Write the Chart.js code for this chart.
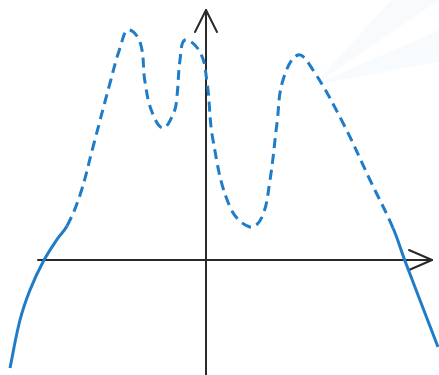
<!DOCTYPE html>
<html>
<head>
<meta charset="utf-8">
<script src="https://cdn.jsdelivr.net/npm/chart.js@4/dist/chart.umd.min.js"></script>
<style>
  html, body { margin: 0; padding: 0; background: #fff; }
  #wrap { width: 439px; height: 375px; }
</style>
</head>
<body>
<div id="wrap"><canvas id="my_canvas" width="439" height="375"></canvas></div>
<script>
// curve samples (x, y)
var curveX = [-4.9, -4.65, -4.4, -4.075, -3.7, -3.475, -3.15, -2.825, -2.4, -2.15, -1.95,
              -1.65, -1.525, -1.35, -1.075, -0.8, -0.725, -0.65, -0.525, -0.15, 0.025, 0.175,
              0.6, 1.1, 1.4, 1.6, 1.775, 1.925, 2.3, 2.675, 3.425, 4.1, 4.675,
              4.975, 5.8];
var curveY = [-2.7, -1.5, -0.75, -0.05, 0.55, 0.85, 1.625, 2.825, 4.425, 5.3, 5.75,
              5.45, 4.45, 3.7, 3.3, 3.7, 4.1, 5.0, 5.5, 5.2, 4.45, 3.0,
              1.325, 0.825, 1.075, 2.0, 3.425, 4.5, 5.125, 4.75, 3.425, 2.0, 0.8,
              -0.025, -2.175];

// the part of the curve drawn dashed
var dashFrom = -3.475;
var dashTo = 4.675;

// view window and axis extents
var xMin = -5.15, xMax = 5.825;
var yMin = -2.875, yMax = 6.5;
var xAxisFrom = -4.2, xAxisTo = 5.65;
var yAxisTop = 6.25;

var points = [];
for (var i = 0; i < curveX.length; i++) {
    points.push({ x: curveX[i], y: curveY[i] });
}

var axisColor = '#2a2a2a';

// very faint rays behind the chart, top right
var backdrop = {
    id: 'backdrop',
    beforeDraw: function(chart) {
        var c = chart.ctx, w = chart.width;
        c.save();
        c.fillStyle = 'rgba(240,243,246,0.45)';
        c.beginPath();
        c.moveTo(w - 125, 85);
        c.lineTo(w - 48, 0);
        c.lineTo(w, 0);
        c.closePath();
        c.fill();
        c.fillStyle = 'rgba(238,244,250,0.4)';
        c.beginPath();
        c.moveTo(w - 125, 85);
        c.lineTo(w, 30);
        c.lineTo(w, 62);
        c.closePath();
        c.fill();
        c.restore();
    }
};

// coordinate axes with arrow heads
var axes = {
    id: 'axes',
    beforeDatasetsDraw: function(chart) {
        var c = chart.ctx;
        var sx = chart.scales.x, sy = chart.scales.y;
        var ox = sx.getPixelForValue(0), oy = sy.getPixelForValue(0);
        var x0 = sx.getPixelForValue(xAxisFrom), x1 = sx.getPixelForValue(xAxisTo);
        var yTop = sy.getPixelForValue(yAxisTop);
        c.save();
        c.strokeStyle = axisColor;
        c.lineWidth = 2;
        c.lineCap = 'round';
        c.lineJoin = 'round';
        c.beginPath();
        c.moveTo(x0, oy);
        c.lineTo(x1, oy);
        c.moveTo(ox, chart.height);
        c.lineTo(ox, yTop);
        c.stroke();
        c.beginPath();
        c.moveTo(x1 - 23, oy - 10);
        c.lineTo(x1, oy);
        c.lineTo(x1 - 23, oy + 10);
        c.moveTo(ox - 11, yTop + 22);
        c.lineTo(ox, yTop);
        c.lineTo(ox + 11, yTop + 22);
        c.stroke();
        c.restore();
    }
};

var ctx = document.getElementById('my_canvas');

var graph = new Chart(ctx, {
    type: 'scatter',
    data: {
        datasets: [
            {
                data: points,
                showLine: true,
                borderColor: 'rgb(30,124,200)',
                borderWidth: 3,
                pointRadius: 0,
                tension: 0.4,
                segment: {
                    borderDash: function(s) {
                        if (s.p0.parsed.x >= dashFrom && s.p1.parsed.x <= dashTo) return [10, 6];
                        return undefined;
                    }
                }
            }
        ]
    },
    options: {
        responsive: false,
        animation: false,
        layout: { padding: 0 },
        plugins: { legend: { display: false }, tooltip: { enabled: false } },
        scales: {
            x: { type: 'linear', min: xMin, max: xMax, display: false },
            y: { type: 'linear', min: yMin, max: yMax, display: false }
        }
    },
    plugins: [backdrop, axes]
});
</script>
</body>
</html>
